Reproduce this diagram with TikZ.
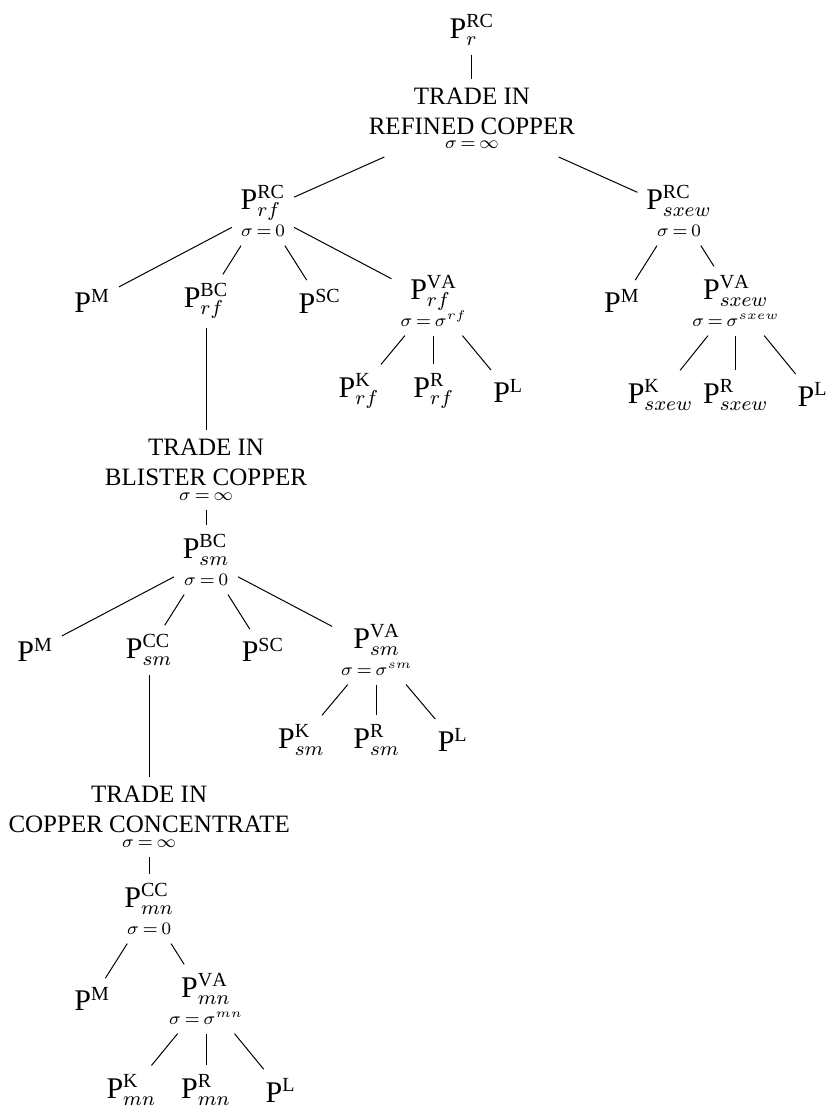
\documentclass[tikz,border=0pt]{standalone}
\usepackage{fontspec}
\setmainfont{Liberation Serif}
\usepackage{tikz}
\usetikzlibrary{positioning}

\newcommand{\elast}[1]{{\fontsize{7}{8}\selectfont\thickmuskip=3mu$\sigma=#1$}}

\begin{document}
\begin{tikzpicture}[on grid, node distance=1.265cm,
        price/.style={font=\large, align=center},
        trade/.style={align=center}]
        \useasboundingbox (-6.635,-15.127) rectangle (5.005,0.422);

        % refined copper
        \node (pr) {\large$\mathrm{P}^{\mathrm{RC}}_{r}$};
        \node[trade, below=1.237cm of pr] (trc) {TRADE IN\\REFINED COPPER\\[-6.5pt]\elast{\infty}};
        \node[price, below left=1.307cm and 2.938cm of trc] (prf) {$\mathrm{P}^{\mathrm{RC}}_{rf}$\\[-3pt]\elast{0}};
        \node[price, below right=1.307cm and 2.91cm of trc] (psx) {$\mathrm{P}^{\mathrm{RC}}_{sxew}$\\[-3pt]\elast{0}};

        \node[price, below left=1.265cm and 2.4cm of prf] (mrf) {$\mathrm{P}^{\mathrm{M}}$};
        \node[price, below left=1.265cm and 0.8cm of prf] (bcrf) {$\mathrm{P}^{\mathrm{BC}}_{rf}$};
        \node[price, below right=1.265cm and 0.8cm of prf] (scrf) {$\mathrm{P}^{\mathrm{SC}}$};
        \node[price, below right=1.265cm and 2.4cm of prf] (varf) {$\mathrm{P}^{\mathrm{VA}}_{rf}$\\[-3pt]\elast{\sigma^{rf}}};
        \node[price, below left=1.265cm and 1.05cm of varf] (krf) {$\mathrm{P}^{\mathrm{K}}_{rf}$};
        \node[price, below=of varf] (rrf) {$\mathrm{P}^{\mathrm{R}}_{rf}$};
        \node[price, below right=1.265cm and 1.05cm of varf] (lrf) {$\mathrm{P}^{\mathrm{L}}$};

        \node[price, below left=1.265cm and 0.8cm of psx] (msx) {$\mathrm{P}^{\mathrm{M}}$};
        \node[price, below right=1.265cm and 0.8cm of psx] (vasx) {$\mathrm{P}^{\mathrm{VA}}_{sxew}$\\[-3pt]\elast{\sigma^{sxew}}};
        \node[price, below left=1.32cm and 1.06cm of vasx] (ksx) {$\mathrm{P}^{\mathrm{K}}_{sxew}$};
        \node[price, below=1.32cm of vasx] (rsx) {$\mathrm{P}^{\mathrm{R}}_{sxew}$};
        \node[price, below right=1.32cm and 1.08cm of vasx] (lsx) {$\mathrm{P}^{\mathrm{L}}$};

        % blister copper
        \node[trade, below=2.376cm of bcrf] (tbc) {TRADE IN\\BLISTER COPPER\\[-6pt]\elast{\infty}};
        \node[price, below=of tbc] (psm) {$\mathrm{P}^{\mathrm{BC}}_{sm}$\\[-3pt]\elast{0}};
        \node[price, below left=1.265cm and 2.4cm of psm] (msm) {$\mathrm{P}^{\mathrm{M}}$};
        \node[price, below left=1.265cm and 0.8cm of psm] (ccsm) {$\mathrm{P}^{\mathrm{CC}}_{sm}$};
        \node[price, below right=1.265cm and 0.8cm of psm] (scsm) {$\mathrm{P}^{\mathrm{SC}}$};
        \node[price, below right=1.265cm and 2.4cm of psm] (vasm) {$\mathrm{P}^{\mathrm{VA}}_{sm}$\\[-3pt]\elast{\sigma^{sm}}};
        \node[price, below left=1.265cm and 1.06cm of vasm] (ksm) {$\mathrm{P}^{\mathrm{K}}_{sm}$};
        \node[price, below=of vasm] (rsm) {$\mathrm{P}^{\mathrm{R}}_{sm}$};
        \node[price, below right=1.265cm and 1.07cm of vasm] (lsm) {$\mathrm{P}^{\mathrm{L}}$};

        % copper concentrate
        \node[trade, below=2.348cm of ccsm] (tcc) {TRADE IN\\COPPER CONCENTRATE\\[-6pt]\elast{\infty}};
        \node[price, below=1.294cm of tcc] (pmn) {$\mathrm{P}^{\mathrm{CC}}_{mn}$\\[-3pt]\elast{0}};
        \node[price, below left=1.265cm and 0.8cm of pmn] (mmn) {$\mathrm{P}^{\mathrm{M}}$};
        \node[price, below right=1.265cm and 0.8cm of pmn] (vamn) {$\mathrm{P}^{\mathrm{VA}}_{mn}$\\[-3pt]\elast{\sigma^{mn}}};
        \node[price, below left=1.28cm and 1.05cm of vamn] (kmn) {$\mathrm{P}^{\mathrm{K}}_{mn}$};
        \node[price, below=1.28cm of vamn] (rmn) {$\mathrm{P}^{\mathrm{R}}_{mn}$};
        \node[price, below right=1.28cm and 1.05cm of vamn] (lmn) {$\mathrm{P}^{\mathrm{L}}$};

        \draw (pr) -- (trc);
        \draw (trc) -- (prf);
        \draw (trc) -- (psx);
        \draw (prf) -- (mrf);
        \draw (prf) -- (bcrf);
        \draw (prf) -- (scrf);
        \draw (prf) -- (varf);
        \draw (varf) -- (krf);
        \draw (varf) -- (rrf);
        \draw (varf) -- (lrf);
        \draw (psx) -- (msx);
        \draw (psx) -- (vasx);
        \draw (vasx) -- (ksx);
        \draw (vasx) -- (rsx);
        \draw (vasx) -- (lsx);
        \draw (bcrf) -- (tbc);
        \draw (tbc) -- (psm);
        \draw (psm) -- (msm);
        \draw (psm) -- (ccsm);
        \draw (psm) -- (scsm);
        \draw (psm) -- (vasm);
        \draw (vasm) -- (ksm);
        \draw (vasm) -- (rsm);
        \draw (vasm) -- (lsm);
        \draw (ccsm) -- (tcc);
        \draw (tcc) -- (pmn);
        \draw (pmn) -- (mmn);
        \draw (pmn) -- (vamn);
        \draw (vamn) -- (kmn);
        \draw (vamn) -- (rmn);
        \draw (vamn) -- (lmn);
    \end{tikzpicture}
\end{document}
